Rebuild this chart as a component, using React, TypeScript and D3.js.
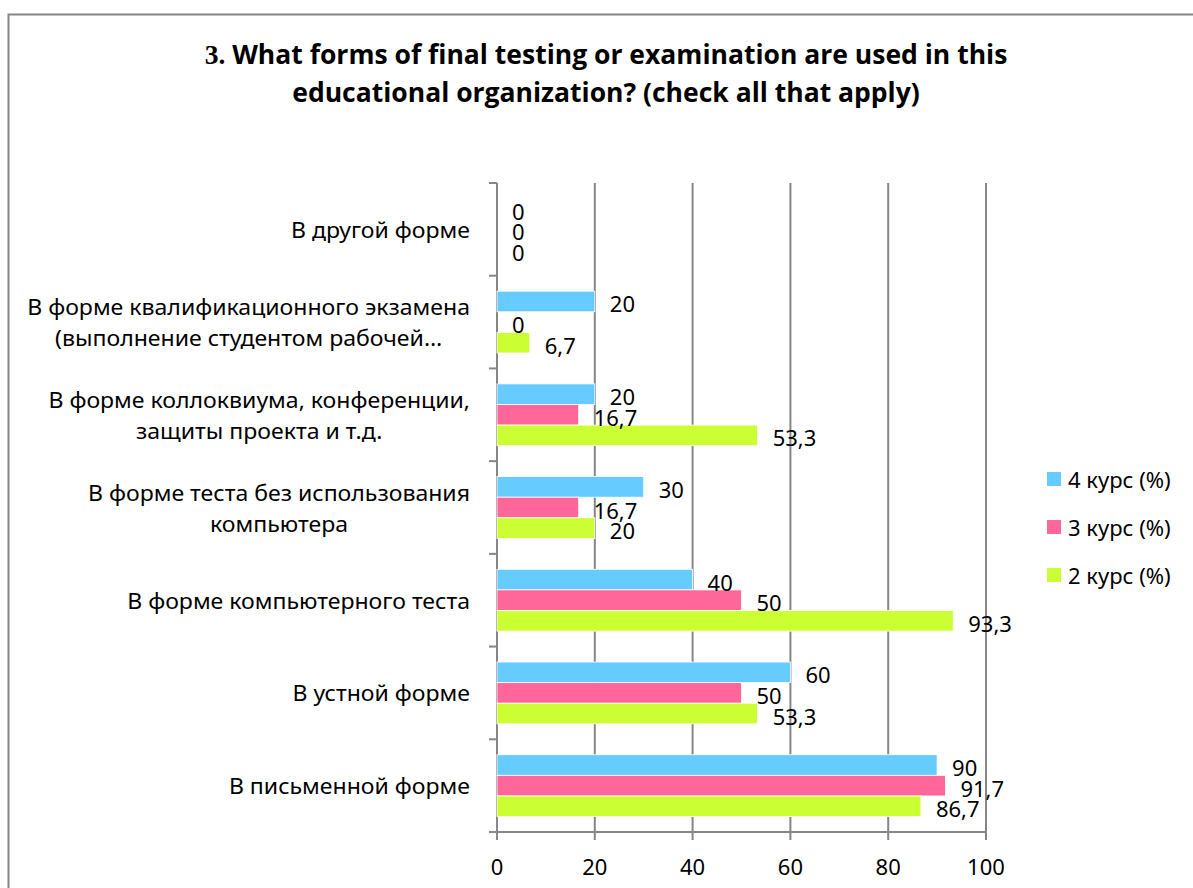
import React, { useLayoutEffect, useRef, useState } from "react";
import * as d3 from "d3";

const categories = [
  "В другой форме",
  "В форме квалификационного экзамена|(выполнение студентом рабочей…",
  "В форме коллоквиума, конференции,|защиты проекта и т.д.",
  "В форме теста без использования|компьютера",
  "В форме компьютерного теста",
  "В устной форме",
  "В письменной форме",
];
const seriesNames = ["4 курс (%)", "3 курс (%)", "2 курс (%)"];
const course4 = [0, 20, 20, 30, 40, 60, 90];
const course3 = [0, 0, 16.7, 16.7, 50, 50, 91.7];
const course2 = [0, 6.7, 53.3, 20, 93.3, 53.3, 86.7];
const seriesValues = [course4, course3, course2];
const colors = ["#66CCFF", "#FF6699", "#CCFF33"];
const xTicks = [0, 20, 40, 60, 80, 100];
const titleLines = [
  "What forms of final testing or examination are used in this",
  "educational organization? (check all that apply)",
];

const LABEL_FONT = "'Noto Sans', 'Open Sans', sans-serif";
const TITLE_FONT = "'Open Sans', 'Noto Sans', sans-serif";
const SERIF_FONT = "'Liberation Serif', serif";

export default function App() {
  const W = 1193;
  const H = 888;
  const x = d3.scaleLinear().domain([0, 100]).range([497, 986]);
  const y = d3.scaleBand<string>().domain(categories).range([183, 832]).padding(0);
  const inner = d3
    .scaleBand<string>()
    .domain(seriesNames)
    .range([0, y.bandwidth()])
    .paddingInner(0)
    .paddingOuter(0.75);

  const labelSize = 21;
  const titleSize = 27;
  const valueSize = 22;
  const legendSize = 22;
  const lineGap = 31;
  const fmt = (v: number) => String(v).replace(".", ",");

  const labelRefs = useRef<(SVGTextElement | null)[]>([]);
  const refLine = useRef<SVGTSpanElement | null>(null);
  const titleRef = useRef<SVGGElement>(null);
  const [sx, setSx] = useState(0.87);
  const [tsx, setTsx] = useState(1);
  const [cxs, setCxs] = useState<number[] | null>(null);
  const [pass, setPass] = useState(0);

  useLayoutEffect(() => {
    if (pass === 0) {
      // fit scale so the reference line has its reference width
      if (refLine.current) {
        const w = refLine.current.getBoundingClientRect().width;
        if (w > 0) setSx(sx * (443 / w));
      }
      if (titleRef.current) {
        const w = titleRef.current.getBoundingClientRect().width;
        if (w > 0) setTsx(tsx * (803 / w));
      }
      setPass(1);
    } else if (pass === 1) {
      const list = labelRefs.current.map((el) => {
        if (!el) return 470;
        const w = el.getBoundingClientRect().width;
        return 470 - w / 2;
      });
      setCxs(list);
      setPass(2);
    }
  }, [pass]);

  return (
    <svg
      width={W}
      height={H}
      style={{ position: "absolute", left: 0, top: 0, background: "#fff" }}
      fontFamily={LABEL_FONT}
    >
      <rect x={8.5} y={14.5} width={1300} height={1000} fill="#fff" stroke="#868686" strokeWidth={2} />

      {/* title */}
      <g ref={titleRef} transform={`translate(606,0) scale(${tsx},1)`}>
        <text
          x={0}
          y={64}
          textAnchor="middle"
          fontWeight="bold"
          fontSize={titleSize}
          fontFamily={TITLE_FONT}
          fill="#000"
        >
          <tspan fontFamily={SERIF_FONT} fontSize={titleSize * 1.04}>3.</tspan>
          <tspan> {titleLines[0]}</tspan>
        </text>
        <text
          x={0}
          y={102}
          textAnchor="middle"
          fontWeight="bold"
          fontSize={titleSize}
          fontFamily={TITLE_FONT}
          fill="#000"
        >
          {titleLines[1]}
        </text>
      </g>

      {/* gridlines */}
      {xTicks.map((t) => (
        <line
          key={"g" + t}
          x1={x(t)}
          x2={x(t)}
          y1={183}
          y2={840}
          stroke="#868686"
          strokeWidth={2}
        />
      ))}
      {/* category axis */}
      <line x1={497} x2={497} y1={183} y2={840} stroke="#868686" strokeWidth={2} />
      <line x1={489} x2={986} y1={832} y2={832} stroke="#868686" strokeWidth={2} />
      {categories.map((c) => (
        <line
          key={"t" + c}
          x1={489}
          x2={497}
          y1={y(c)!}
          y2={y(c)!}
          stroke="#868686"
          strokeWidth={2}
        />
      ))}

      {/* bars */}
      {categories.map((c, ci) =>
        seriesNames.map((s, si) => {
          const v = seriesValues[si][ci];
          if (v <= 0) return null;
          return (
            <rect
              key={c + s}
              x={x(0)}
              y={y(c)! + inner(s)!}
              width={x(v) - x(0)}
              height={inner.bandwidth()}
              fill={colors[si]}
              stroke="#ffffff"
              strokeWidth={0.8}
            />
          );
        })
      )}

      {/* data labels */}
      {categories.map((c, ci) =>
        seriesNames.map((s, si) => {
          const v = seriesValues[si][ci];
          return (
            <text
              key={"l" + c + s}
              x={x(v) + 15}
              y={y(c)! + inner(s)! + inner.bandwidth() / 2 + 2}
              dominantBaseline="central"
              fontSize={valueSize}
              fill="#000"
            >
              {fmt(v)}
            </text>
          );
        })
      )}

      {/* category labels */}
      {categories.map((c, ci) => {
        const lines = c.split("|");
        const cx = cxs ? cxs[ci] : 300;
        const cy = y(c)! + y.bandwidth() / 2;
        const start = cy - ((lines.length - 1) * lineGap) / 2;
        return (
          <g key={"c" + c} transform={`translate(${cx},0) scale(${sx},1)`}>
            <text
              ref={(el) => {
                labelRefs.current[ci] = el;
              }}
              x={0}
              textAnchor="middle"
              fontSize={labelSize}
              fill="#000"
            >
              {lines.map((l, i) => (
                <tspan
                  key={i}
                  ref={l === "В форме квалификационного экзамена" ? refLine : undefined}
                  x={0}
                  y={start + i * lineGap}
                  dominantBaseline="central"
                >
                  {l}
                </tspan>
              ))}
            </text>
          </g>
        );
      })}

      {/* x tick labels */}
      {xTicks.map((t) => (
        <text
          key={"xl" + t}
          x={x(t)}
          y={866}
          textAnchor="middle"
          dominantBaseline="central"
          fontSize={valueSize}
          fill="#000"
        >
          {t}
        </text>
      ))}

      {/* legend */}
      {seriesNames.map((s, i) => (
        <g key={"lg" + s} transform={`translate(1047, ${479 + i * 48})`}>
          <rect x={0} y={-7} width={14} height={14} fill={colors[i]} />
          <text x={21} y={0} dominantBaseline="central" fontSize={legendSize} fill="#000">
            {s}
          </text>
        </g>
      ))}
    </svg>
  );
}
